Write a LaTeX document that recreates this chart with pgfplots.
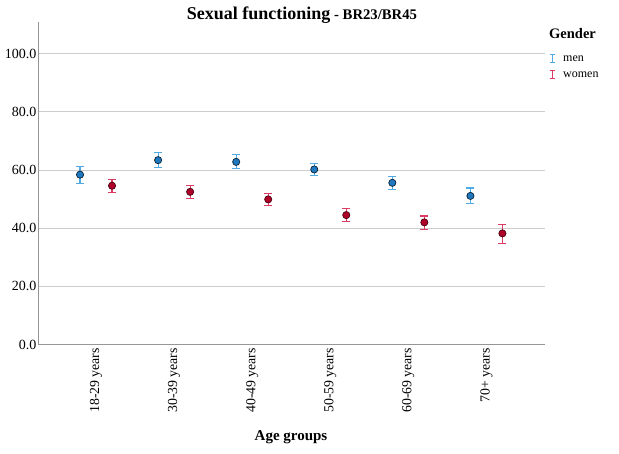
\documentclass[border=0pt]{standalone}
\usepackage{fontspec}
\setmainfont{Liberation Serif}
\usepackage{pgfplots}
\pgfplotsset{compat=1.18}
\usepackage{pgfplotstable}
\definecolor{menfill}{RGB}{31,119,190}
\definecolor{menbar}{RGB}{80,170,228}
\definecolor{womfill}{RGB}{175,0,40}
\definecolor{wombar}{RGB}{218,60,100}
\definecolor{gridc}{RGB}{205,205,205}
\definecolor{axc}{RGB}{150,150,150}
\pgfplotsset{
  errlegend/.style={legend image code/.code={\draw[##1] (0.15cm,-0.14cm)--(0.15cm,0.14cm) (0.05cm,-0.14cm)--(0.25cm,-0.14cm) (0.05cm,0.14cm)--(0.25cm,0.14cm); \path (0.45cm,0cm);}}
}
\pgfplotstableread{
x y ep em
-0.205 58.4 2.7 3.0
0.795 63.4 2.6 2.6
1.795 62.8 2.4 2.3
2.795 60.2 2.1 2.0
3.795 55.6 2.1 2.2
4.795 51.1 2.7 2.6
}\men
\pgfplotstableread{
x y ep em
0.205 54.6 2.2 2.3
1.205 52.5 2.1 2.4
2.205 49.9 2.1 2.2
3.205 44.5 2.3 2.3
4.205 42.0 2.2 2.5
5.205 38.2 3.2 3.5
}\women
\begin{document}
\begin{tikzpicture}
\useasboundingbox (0pt,0pt) rectangle (619pt,453pt);
\begin{axis}[
  at={(38.5pt,108.5pt)}, anchor=south west, scale only axis,
  width=506pt, height=322.5pt,
  xmin=-0.737, xmax=5.744, ymin=0, ymax=110.9,
  axis x line*=bottom, axis y line*=left,
  axis line style={axc, line width=0.9pt},
  ymajorgrids, grid style={gridc, line width=0.9pt},
  ytick={0,20,40,60,80,100},
  /pgf/number format/.cd, fixed, fixed zerofill, precision=1, assume math mode=true,
  /pgfplots/.cd,
  xtick={0,1,2,3,4,5},
  xticklabels={18-29 years,30-39 years,40-49 years,50-59 years,60-69 years,70+ years},
  xticklabel style={rotate=90, anchor=east, font=\fontsize{13.8}{15}\selectfont},
  yticklabel style={font=\fontsize{14}{16}\selectfont, inner sep=2pt},
  major tick length=0pt,
  legend style={at={(axis description cs:1.007,0.9616)}, anchor=north west, draw=none, fill=none,
    font=\fontsize{12}{13}\selectfont, row sep=2pt, inner sep=0pt, cells={anchor=west},
    nodes={text height=8.5pt, text depth=3pt, inner sep=1.5pt}},
  legend cell align=left,
]
\addlegendimage{empty legend}
\addlegendentry{\hspace{-14pt}\raisebox{6pt}{\fontsize{14.5}{16}\selectfont\textbf{Gender}}}
\addlegendimage{color=menbar, line width=1.3pt, errlegend}
\addlegendentry{men}
\addlegendimage{color=wombar, line width=1.3pt, errlegend}
\addlegendentry{women}
\addplot[forget plot, only marks, mark=*, mark size=3.6pt, mark options={fill=menfill, draw=black!70!menfill, line width=0.7pt},
  error bars/.cd, y dir=both, y explicit,
  error bar style={menbar, line width=1.1pt},
  error mark options={menbar, rotate=90, mark size=4pt, line width=1.1pt}]
  table[x=x, y=y, y error plus=ep, y error minus=em] {\men};
\addplot[forget plot, only marks, mark=*, mark size=3.6pt, mark options={fill=womfill, draw=black!60!womfill, line width=0.7pt},
  error bars/.cd, y dir=both, y explicit,
  error bar style={wombar, line width=1.1pt},
  error mark options={wombar, rotate=90, mark size=4pt, line width=1.1pt}]
  table[x=x, y=y, y error plus=ep, y error minus=em] {\women};
\end{axis}
\node at (302pt,438pt) {\bfseries\fontsize{18}{20}\selectfont Sexual functioning\fontsize{14.7}{17}\selectfont{} - BR23/BR45};
\node at (291pt,16pt) {\bfseries\fontsize{15}{17}\selectfont Age groups};
\end{tikzpicture}
\end{document}
